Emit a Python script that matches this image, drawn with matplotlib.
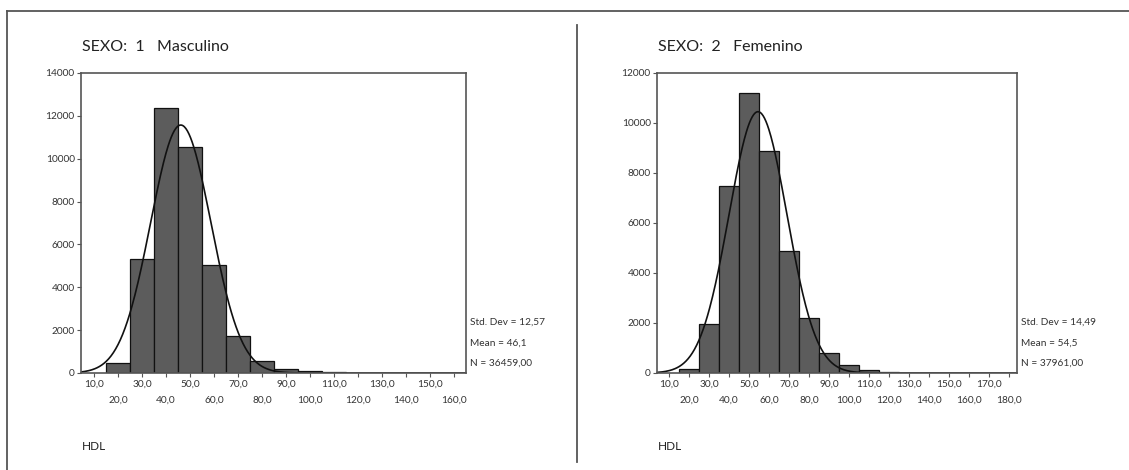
import numpy as np
import matplotlib
matplotlib.use("Agg")
import matplotlib.pyplot as plt
from matplotlib.lines import Line2D
from matplotlib.ticker import FixedLocator

plt.rcParams['font.family'] = ['Lato', 'DejaVu Sans']

# bin midpoints (width 10) and counts
centers_m = [20, 30, 40, 50, 60, 70, 80, 90, 100, 110]
counts_m = [480, 5320, 12350, 10530, 5040, 1740, 570, 210, 100, 45]
centers_f = [20, 30, 40, 50, 60, 70, 80, 90, 100, 110, 120]
counts_f = [170, 1970, 7500, 11200, 8900, 4870, 2200, 800, 330, 110, 55]

stats_m = {"sd": 12.57, "mean": 46.1, "n": 36459}
stats_f = {"sd": 14.49, "mean": 54.5, "n": 37961}

titles = ["SEXO:  1   Masculino", "SEXO:  2   Femenino"]
bin_w = 10

W, H = 1129, 470
fig = plt.figure(figsize=(W / 100, H / 100), dpi=100)

GRAY = "#555555"
TXT = "#333333"


def fx(px):
    return px / W


def fy(py):
    return 1 - py / H


def panel(left_px, right_px, centers, counts, st, title, xmax_tick, ymax, xlim):
    ax = fig.add_axes([fx(left_px), fy(373), fx(right_px - left_px), (373 - 73) / H])
    ax.bar(centers, counts, width=bin_w, color="#5c5c5c", edgecolor="#111111", lw=0.9)
    xs = np.linspace(xlim[0], xlim[1], 500)
    pdf = np.exp(-0.5 * ((xs - st["mean"]) / st["sd"]) ** 2) / (st["sd"] * np.sqrt(2 * np.pi))
    ax.plot(xs, st["n"] * bin_w * pdf, color="#111111", lw=1.2)
    ax.set_xlim(*xlim)
    ax.set_ylim(0, ymax)
    ax.set_yticks(np.arange(0, ymax + 1, 2000))
    ax.set_yticklabels([str(v) for v in range(0, ymax + 1, 2000)], fontsize=7.3, color=TXT)
    odd = list(range(10, xmax_tick, 20))
    even = list(range(20, xmax_tick + 1, 20))
    ax.xaxis.set_major_locator(FixedLocator(odd))
    ax.xaxis.set_minor_locator(FixedLocator(even))
    ax.set_xticklabels([f"{v},0" for v in odd], fontsize=7.3, color=TXT)
    ax.set_xticklabels([f"{v},0" for v in even], minor=True, fontsize=7.3, color=TXT)
    ax.tick_params(axis="x", which="major", length=3, width=0.8, pad=1.5, color=GRAY)
    ax.tick_params(axis="x", which="minor", length=3, width=0.8, pad=13, color=GRAY)
    ax.tick_params(axis="y", length=3, width=0.8, pad=1.5, color=GRAY)
    for s in ax.spines.values():
        s.set_color(GRAY)
        s.set_linewidth(1.2)
    fig.text(fx(left_px + 1), fy(47), title, fontsize=11.5, va="center", ha="left", color="#222222")
    fig.text(fx(left_px + 1), fy(447), "HDL", fontsize=8.5, va="center", ha="left", color="#222222")
    sd_s = f"{st['sd']:.2f}".replace(".", ",")
    mean_s = f"{st['mean']:.1f}".replace(".", ",")
    lines = [f"Std. Dev = {sd_s}", f"Mean = {mean_s}", f"N = {st['n']},00"]
    for txt, y in zip(lines, [322, 343, 363]):
        fig.text(fx(right_px + 4), fy(y), txt, fontsize=7.3, va="center", ha="left", color=TXT)
    return ax


panel(81, 466, centers_m, counts_m, stats_m, titles[0], 160, 14000, (4.5, 165.0))
panel(657, 1017, centers_f, counts_f, stats_f, titles[1], 180, 12000, (4.0, 184.0))

# outer frame and divider
fig.add_artist(Line2D([fx(7), 1], [fy(11), fy(11)], color=GRAY, lw=1.3, transform=fig.transFigure))
fig.add_artist(Line2D([fx(7), fx(7)], [fy(11), 0], color=GRAY, lw=1.3, transform=fig.transFigure))
fig.add_artist(Line2D([fx(577), fx(577)], [fy(25), fy(462)], color=GRAY, lw=1.3, transform=fig.transFigure))

fig.savefig("out.png", dpi=100)
